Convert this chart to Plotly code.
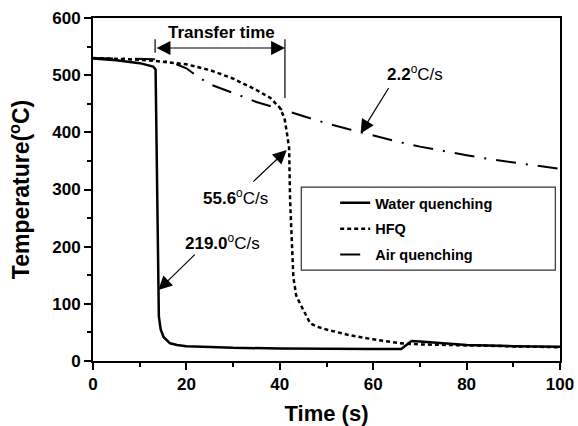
import plotly.graph_objects as go

# Water quenching
water_t = [0, 5, 10, 12.9, 13.4, 13.7, 14.0, 14.1, 14.5, 15.1, 16.5, 18, 20, 25, 30, 40, 50, 60, 66, 67, 68.2, 70, 75, 80, 90, 100]
water_T = [529, 526, 521, 515, 510, 300, 124, 78, 55, 42, 31, 28, 26, 24, 23, 22, 21, 21, 21, 27, 35, 34, 31, 28, 26, 25]

# HFQ
hfq_t = [0, 5, 10, 13, 15, 20, 25, 30, 35, 38, 40, 41, 41.5, 42, 42.2, 42.6, 42.9, 43.5, 44.3, 46.5, 48, 50, 52.9, 55, 60, 65.7, 70, 80, 90, 100]
hfq_T = [530, 529, 527, 525, 523, 519, 509, 494, 474, 460, 443, 425, 400, 372, 282, 200, 147, 115, 101, 66, 60, 55, 49, 45, 38, 31, 29, 27, 25, 24]

# Air quenching
air_t = [0, 10, 13, 17, 20, 22, 25, 30, 35, 40, 45, 50, 55, 60, 65, 70, 75, 80, 85, 90, 95, 100]
air_T = [530, 529, 528, 522, 512, 500, 484, 469, 453, 441, 428, 416, 405, 394, 384, 375, 367, 360, 353, 347, 341, 336]

FONT = "Arial, Liberation Sans, sans-serif"

fig = go.Figure()
fig.add_trace(go.Scatter(x=water_t, y=water_T, mode="lines", name="Water quenching",
                         line=dict(color="black", width=2.5), legendgroup="a"))
fig.add_trace(go.Scatter(x=hfq_t, y=hfq_T, mode="lines", name="HFQ",
                         line=dict(color="black", width=2.5, dash="4px,3px"), legendgroup="b"))
fig.add_trace(go.Scatter(x=air_t, y=air_T, mode="lines", name="Air quenching",
                         line=dict(color="black", width=2, dash="20px,10px,2px,10px"), legendgroup="c"))

axis_common = dict(showgrid=False, zeroline=False, showline=True, linecolor="black", linewidth=2,
                   mirror=True, ticks="outside", ticklen=7, tickwidth=2, tickcolor="black",
                   tickfont=dict(family=FONT, size=17, color="black", weight="bold"),
                   minor=dict(ticks="outside", ticklen=4, tickwidth=1.5, tickcolor="black"))

fig.update_xaxes(range=[0, 100], dtick=20, minor_dtick=10, automargin=False,
                 title=dict(text="Time (s)", font=dict(family=FONT, size=22, color="black", weight="bold"), standoff=14),
                 **axis_common)
fig.update_yaxes(range=[0, 600], dtick=100, minor_dtick=50, automargin=True,
                 title=dict(text="Temperature(<sup>o</sup>C)", font=dict(family=FONT, size=23, color="black", weight="bold"), standoff=16),
                 **axis_common)

ann_font = dict(family=FONT, size=17, color="black")
annotations = [
    dict(x=27.6, y=575, text="<b>Transfer time</b>", showarrow=False, font=ann_font),
    dict(x=30.6, y=287, text="<b>55.6</b><sup>o</sup>C/s", showarrow=False, font=ann_font),
    dict(x=27.7, y=209, text="<b>219.0</b><sup>o</sup>C/s", showarrow=False, font=ann_font),
    dict(x=68.9, y=503, text="<b>2.2</b><sup>o</sup>C/s", showarrow=False, font=ann_font),
    # arrows
    dict(x=41.1, y=547.5, ax=13.3, ay=547.5, axref="x", ayref="y", text="", showarrow=True,
         arrowhead=2, arrowsize=2.3, arrowwidth=1.2, arrowside="end+start", arrowcolor="black"),
    dict(x=41.48, y=369, ax=-35, ay=33, text="", showarrow=True,
         arrowhead=2, arrowsize=2.3, arrowwidth=1.2, arrowcolor="black"),
    dict(x=13.98, y=124, ax=38, ay=-37, text="", showarrow=True,
         arrowhead=2, arrowsize=2.3, arrowwidth=1.2, arrowcolor="black"),
    dict(x=57.3, y=398, ax=29, ay=-47, text="", showarrow=True,
         arrowhead=2, arrowsize=2.3, arrowwidth=1.2, arrowcolor="black"),
]

shapes = [
    dict(type="line", xref="x", yref="y", x0=13.3, x1=13.3, y0=539, y1=563, line=dict(color="black", width=1.2)),
    dict(type="line", xref="x", yref="y", x0=41.1, x1=41.1, y0=460, y1=563, line=dict(color="black", width=1.2)),
    # legend frame
    dict(type="rect", xref="paper", yref="paper", x0=0.446, x1=0.990, y0=0.265, y1=0.507,
         line=dict(color="#333333", width=1.2), fillcolor="rgba(0,0,0,0)"),
]

fig.update_layout(
    width=578, height=426,
    margin=dict(l=93, r=18, t=18, b=65, autoexpand=False),
    plot_bgcolor="white", paper_bgcolor="white",
    annotations=annotations, shapes=shapes,
    legend=dict(x=0.5186, y=0.5075, xanchor="left", yanchor="top",
                bgcolor="rgba(0,0,0,0)", borderwidth=0,
                font=dict(family=FONT, size=14.5, color="black", weight="bold"),
                traceorder="grouped", tracegroupgap=4),
)

fig.write_html("out.html")
